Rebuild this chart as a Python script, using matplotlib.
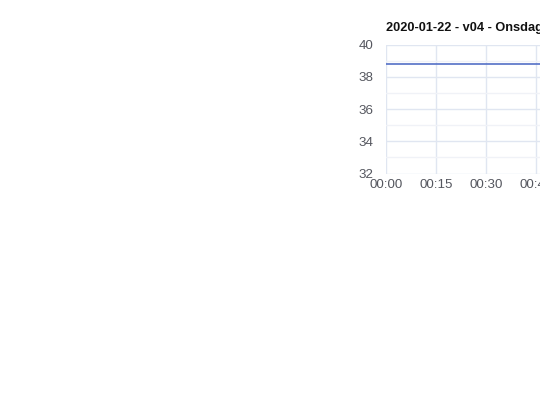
import matplotlib
matplotlib.use("Agg")
import matplotlib.pyplot as plt

# temperature readings, minutes after midnight
minutes = [0, 30, 60, 90, 120]
temps = [38.8, 38.8, 38.8, 38.8, 38.8]

tick_minutes = [0, 15, 30, 45, 60, 75, 90, 105, 120]
tick_labels = ["00:00", "00:15", "00:30", "00:45", "01:00",
               "01:15", "01:30", "01:45", "02:00"]
y_major = [32, 34, 36, 38, 40]
y_minor = [33, 35, 37, 39]

title = "2020-01-22 - v04 - Onsdag"


def main():
    plt.rcParams['font.family'] = ['Liberation Sans', 'DejaVu Sans']
    fig = plt.figure(figsize=(5.4, 4.05), dpi=100)
    # the chart runs off the right edge of the picture
    ax = fig.add_axes([386 / 540, 231.5 / 405, 400 / 540, 129 / 405])

    ax.plot(minutes, temps, color='#5470c6', lw=1.2)

    ax.set_xlim(0, 120)
    ax.set_ylim(32, 40)
    ax.set_xticks(tick_minutes)
    ax.set_xticklabels(tick_labels)
    ax.set_yticks(y_major)
    ax.set_yticks(y_minor, minor=True)

    ax.grid(True, which='major', color='#e0e6f1', lw=1)
    ax.grid(True, which='minor', axis='y', color='#f0f2f7', lw=1)
    ax.set_axisbelow(True)
    for s in ax.spines.values():
        s.set_visible(False)

    ax.tick_params(axis='both', which='both', length=0, labelcolor='#55575f', labelsize=9.6)
    ax.tick_params(axis='y', pad=9)
    ax.tick_params(axis='x', pad=4)

    ax.set_title(title, loc='left', fontsize=9.2, fontweight='bold', color='#111111', pad=10)

    fig.savefig("out.png", dpi=100)


if __name__ == "__main__":
    main()
